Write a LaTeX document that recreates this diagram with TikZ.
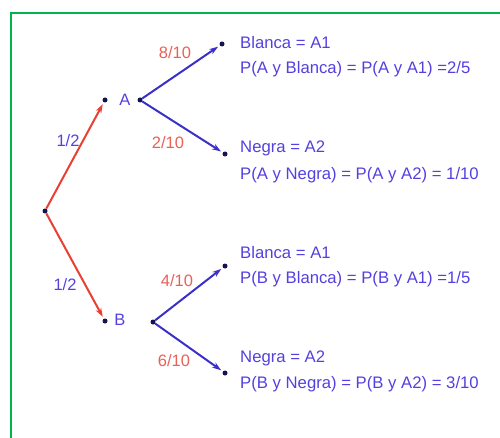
\documentclass[tikz,border=0pt]{standalone}
\usepackage{fontspec}
\setmainfont{Liberation Sans}
\usetikzlibrary{arrows.meta}
\definecolor{frame}{RGB}{0,178,80}
\definecolor{lred}{RGB}{232,64,52}
\definecolor{lblue}{RGB}{58,48,200}
\definecolor{tblue}{RGB}{84,64,224}
\definecolor{tred}{RGB}{232,96,86}
\definecolor{dotc}{RGB}{20,20,80}
\tikzset{
  dot/.style={circle,fill=dotc,inner sep=0pt,minimum size=5pt},
  redarrow/.style={draw=lred,line width=2pt,-{Stealth[length=9pt,width=6pt]},shorten >=2pt},
  bluearrow/.style={draw=lblue,line width=2pt,-{Stealth[length=9pt,width=6pt]},shorten >=2pt},
  txt/.style={text=tblue,font=\fontsize{16.7}{20}\selectfont,inner sep=0pt,anchor=west},
  plab/.style={text=tred,font=\fontsize{16.5}{20}\selectfont,inner sep=0pt},
  hlab/.style={text=tblue,font=\fontsize{16.5}{20}\selectfont,inner sep=0pt},
}
\begin{document}
\begin{tikzpicture}[x=1pt,y=-1pt]
\useasboundingbox (0,0) rectangle (500,438);
\draw[frame,line width=2.2pt] (11,438) -- (11,13) -- (500,13);
% points
\node[dot] (r) at (45,211) {};
\node[dot] (a) at (105,100) {};
\node[dot] (ao) at (140,100) {};
\node[dot] (a1) at (222,44) {};
\node[dot] (a2) at (225,154) {};
\node[dot] (b) at (105,321) {};
\node[dot] (bo) at (153,322) {};
\node[dot] (b1) at (225,266) {};
\node[dot] (b2) at (225,373) {};
% connectors
\draw[redarrow] (r) -- (a);
\draw[redarrow] (r) -- (b);
\draw[bluearrow] (ao) -- (a1);
\draw[bluearrow] (ao) -- (a2);
\draw[bluearrow] (bo) -- (b1);
\draw[bluearrow] (bo) -- (b2);
% labels
\node[hlab] (la) at (125,100) {A};
\node[hlab] (lb) at (120,320) {B};
\node[hlab] (h1) at (68,141) {1/2};
\node[hlab] (h2) at (65,285) {1/2};
\node[plab] (p1) at (175,53) {8/10};
\node[plab] (p2) at (168,143) {2/10};
\node[plab] (p3) at (177,281) {4/10};
\node[plab] (p4) at (174,361) {6/10};
% texts
\node[txt] (t1) at (240,43) {Blanca = A1};
\node[txt] (t2) at (240,69) {P(A y Blanca) = P(A y A1) =2/5};
\node[txt] (t3) at (240,148) {Negra = A2};
\node[txt] (t4) at (240,175) {P(A y Negra) = P(A y A2) = 1/10};
\node[txt] (t5) at (240,253) {Blanca = A1};
\node[txt] (t6) at (240,279) {P(B y Blanca) = P(B y A1) =1/5};
\node[txt] (t7) at (240,358) {Negra = A2};
\node[txt] (t8) at (240,384) {P(B y Negra) = P(B y A2) = 3/10};
\end{tikzpicture}
\end{document}
